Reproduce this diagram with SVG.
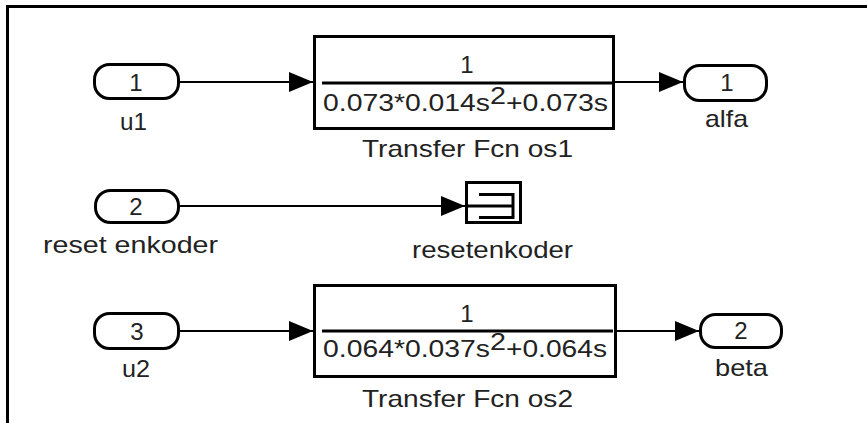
<svg xmlns="http://www.w3.org/2000/svg" width="867" height="423" viewBox="0 0 867 423">
  <defs>
    <style>
      .blk { fill: #ffffff; stroke: #000000; stroke-width: 3; }
      .port { fill: #ffffff; stroke: #000000; stroke-width: 3; }
      .sig { fill: none; stroke: #000000; stroke-width: 2.2; marker-end: url(#arrow); }
      .ink { fill: none; stroke: #000000; stroke-width: 3; }
      .t { font-family: "Liberation Sans", Arial, sans-serif; font-size: 24px; fill: #222222; }
      .c { text-anchor: middle; }
    </style>
    <marker id="arrow" markerUnits="userSpaceOnUse" markerWidth="24" markerHeight="20" refX="24" refY="10" orient="auto">
      <path d="M0,0 L24,10 L0,20 Z" fill="#000000"/>
    </marker>
  </defs>

  <!-- window frame -->
  <path d="M7.5,423 L7.5,6.5 L867,6.5" fill="none" stroke="#000000" stroke-width="3"/>

  <!-- signal lines -->
  <g id="connectors">
    <line class="sig" x1="180" y1="82" x2="313" y2="82"/>
    <line class="sig" x1="615" y1="82" x2="683" y2="82"/>
    <line class="sig" x1="180" y1="206" x2="465" y2="206"/>
    <line class="sig" x1="180" y1="331" x2="313" y2="331"/>
    <line class="sig" x1="617" y1="331" x2="699" y2="331"/>
  </g>

  <!-- inport 1 -->
  <g id="in_u1">
    <rect class="port" x="94.5" y="64.5" width="84" height="34" rx="15"/>
    <text class="t c" x="136" y="91">1</text>
    <text class="t" x="120" y="130" textLength="27" lengthAdjust="spacingAndGlyphs">u1</text>
  </g>

  <!-- transfer function 1 -->
  <g id="tf_os1">
    <rect class="blk" x="314.5" y="36.5" width="299" height="92"/>
    <text class="t c" x="467" y="73">1</text>
    <line class="ink" x1="322" y1="83" x2="612" y2="83"/>
    <text class="t" x="323" y="111" textLength="167" lengthAdjust="spacingAndGlyphs">0.073*0.014s</text>
    <text class="t" x="490" y="104" textLength="16" lengthAdjust="spacingAndGlyphs">2</text>
    <text class="t" x="506" y="111" textLength="102" lengthAdjust="spacingAndGlyphs">+0.073s</text>
    <text class="t" x="362" y="157" textLength="211" lengthAdjust="spacingAndGlyphs">Transfer Fcn os1</text>
  </g>

  <!-- outport 1 -->
  <g id="out_alfa">
    <rect class="port" x="684.5" y="65.5" width="82" height="35" rx="15"/>
    <text class="t c" x="727" y="91">1</text>
    <text class="t" x="705" y="127" textLength="43" lengthAdjust="spacingAndGlyphs">alfa</text>
  </g>

  <!-- inport 2 -->
  <g id="in_reset">
    <rect class="port" x="95.5" y="190.5" width="83" height="32" rx="15"/>
    <text class="t c" x="136" y="215">2</text>
    <text class="t" x="43" y="253" textLength="175" lengthAdjust="spacingAndGlyphs">reset enkoder</text>
  </g>

  <!-- terminator block -->
  <g id="resetenkoder">
    <rect class="blk" x="466.5" y="182.5" width="54" height="40"/>
    <path class="ink" d="M479,194.5 L513,194.5 L513,217.5 L479,217.5 M467,206 L513,206"/>
    <text class="t" x="412" y="258" textLength="161" lengthAdjust="spacingAndGlyphs">resetenkoder</text>
  </g>

  <!-- inport 3 -->
  <g id="in_u2">
    <rect class="port" x="94.5" y="313.5" width="84" height="35" rx="15"/>
    <text class="t c" x="137" y="340">3</text>
    <text class="t" x="122" y="377" textLength="28" lengthAdjust="spacingAndGlyphs">u2</text>
  </g>

  <!-- transfer function 2 -->
  <g id="tf_os2">
    <rect class="blk" x="314.5" y="285.5" width="301" height="91"/>
    <text class="t c" x="467" y="322">1</text>
    <line class="ink" x1="322" y1="331" x2="613" y2="331"/>
    <text class="t" x="323" y="357" textLength="167" lengthAdjust="spacingAndGlyphs">0.064*0.037s</text>
    <text class="t" x="490" y="350" textLength="16" lengthAdjust="spacingAndGlyphs">2</text>
    <text class="t" x="506" y="357" textLength="101" lengthAdjust="spacingAndGlyphs">+0.064s</text>
    <text class="t" x="362" y="407" textLength="211" lengthAdjust="spacingAndGlyphs">Transfer Fcn os2</text>
  </g>

  <!-- outport 2 -->
  <g id="out_beta">
    <rect class="port" x="700.5" y="314.5" width="81" height="33" rx="15"/>
    <text class="t c" x="741" y="339">2</text>
    <text class="t" x="715" y="376" textLength="53" lengthAdjust="spacingAndGlyphs">beta</text>
  </g>
</svg>
